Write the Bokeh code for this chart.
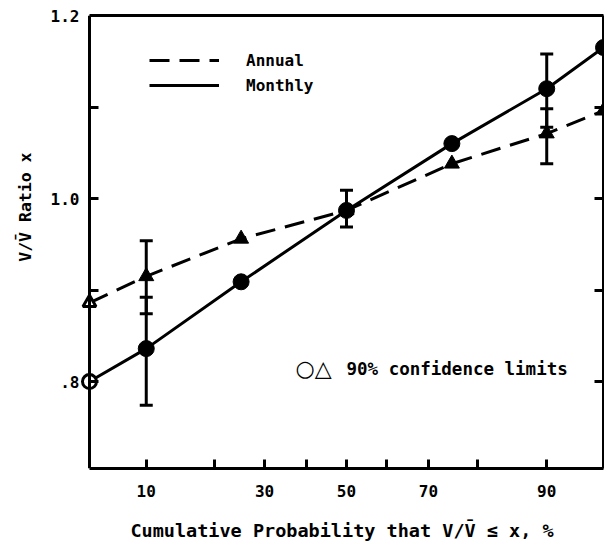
from statistics import NormalDist
from bokeh.plotting import figure
from bokeh.models import (ColumnDataSource, Whisker, TeeHead, FixedTicker, LinearAxis,
                          Range1d, Legend, LegendItem, Label, Title)
from bokeh.embed import file_html
from bokeh.resources import INLINE

# ---- data (cumulative probability %, ratio V/Vbar) ----
prob = [5, 10, 25, 50, 75, 90, 95]
monthly = [0.800, 0.836, 0.909, 0.987, 1.060, 1.120, 1.165]
annual = [0.886, 0.915, 0.956, 0.987, 1.038, 1.071, 1.096]

m_err_prob = [10, 50, 90]
m_err_lo = [0.774, 0.969, 1.078]
m_err_hi = [0.892, 1.009, 1.158]

a_err_prob = [10, 90]
a_err_lo = [0.874, 1.038]
a_err_hi = [0.954, 1.098]

x_major = [10, 30, 50, 70, 90]
x_minor = [20, 40, 60, 80]
y_ticks = [0.8, 0.9, 1.0, 1.1, 1.2]
y_major = [0.8, 1.0, 1.2]
y_labels = {0.8: ".8", 1.0: "1.0", 1.2: "1.2"}
right_ticks = [0.8, 0.9, 1.0, 1.1]

nd = NormalDist()
def z(p):
    return round(nd.inv_cdf(p / 100.0), 6)

FONT = "DejaVu Sans Mono"
x_lo, x_hi = z(prob[0]), z(prob[-1])

p = figure(width=604, height=546, output_backend="svg", toolbar_location=None,
           x_range=Range1d(x_lo - 0.0575, x_hi), y_range=Range1d(0.705, 1.2),
           min_border_left=79, min_border_top=15, min_border_right=1, min_border_bottom=78)
p.background_fill_color = "white"
p.border_fill_color = "white"
p.grid.visible = False
p.outline_line_color = None

def style(ax):
    ax.axis_line_width = 3
    ax.axis_line_color = "black"
    ax.major_tick_in = 9
    ax.major_tick_out = 0
    ax.minor_tick_in = 9
    ax.minor_tick_out = 0
    ax.major_tick_line_width = 3
    ax.minor_tick_line_width = 3
    ax.minor_tick_line_color = "black"
    ax.major_label_text_font = FONT
    ax.major_label_text_font_style = "bold"
    ax.major_label_text_font_size = "16px"
    ax.major_label_text_color = "black"
    ax.axis_label_text_font = FONT
    ax.axis_label_text_font_style = "bold"
    ax.axis_label_text_color = "black"

# bottom axis
xa = p.xaxis[0]
style(xa)
xa.ticker = FixedTicker(ticks=[z(t) for t in x_major], minor_ticks=[z(t) for t in x_minor])
xa.major_label_overrides = {z(t): str(t) for t in x_major}
xa.bounds = (x_lo, x_hi)
xa.major_label_standoff = 16
xa.axis_label = "Cumulative Probability that V/V\u0304 \u2264 x, %"
xa.axis_label_text_font_size = "18.5px"
xa.axis_label_standoff = 20

# left axis: labels only (at the frame edge)
ya = p.yaxis[0]
style(ya)
ya.ticker = FixedTicker(ticks=y_major, minor_ticks=[])
ya.major_label_overrides = y_labels
ya.axis_line_color = None
ya.major_tick_line_color = None
ya.minor_tick_line_color = None
ya.major_label_standoff = 1

# left axis line and ticks, fixed at the 5 % position
yl = LinearAxis(ticker=FixedTicker(ticks=[], minor_ticks=y_ticks), fixed_location=x_lo)
style(yl)
yl.major_label_standoff = 0
p.add_layout(yl, "left")

# y axis title
p.add_layout(Title(text="V/V\u0304 Ratio x", align="right", offset=137,
                   vertical_align="bottom", standoff=26,
                   text_font=FONT, text_font_style="bold", text_font_size="16.5px",
                   text_color="black"), "left")

ra = LinearAxis(ticker=FixedTicker(ticks=[], minor_ticks=right_ticks))
style(ra)
ra.major_label_standoff = 0
p.add_layout(ra, "right")

ta = LinearAxis(ticker=FixedTicker(ticks=[], minor_ticks=[]), bounds=(x_lo, x_hi))
style(ta)
ta.major_label_standoff = 0
p.add_layout(ta, "above")

xs = [z(v) for v in prob]
src = ColumnDataSource(dict(x=xs, m=monthly, a=annual))

# error bars
msrc = ColumnDataSource(dict(x=[z(v) for v in m_err_prob], lo=m_err_lo, hi=m_err_hi))
asrc = ColumnDataSource(dict(x=[z(v) for v in a_err_prob], lo=a_err_lo, hi=a_err_hi))
for s in (msrc, asrc):
    w = Whisker(source=s, base="x", lower="lo", upper="hi", dimension="height",
                line_width=3, line_color="black",
                upper_head=TeeHead(size=13, line_width=3, line_color="black"),
                lower_head=TeeHead(size=13, line_width=3, line_color="black"))
    p.add_layout(w)

la = p.line("x", "a", source=src, line_color="black", line_width=3, line_dash="20 10")
lm = p.line("x", "m", source=src, line_color="black", line_width=3)

# markers: first point open, the rest filled
open_src = ColumnDataSource(dict(x=xs[:1], m=monthly[:1], a=annual[:1]))
fill_src = ColumnDataSource(dict(x=xs[1:], m=monthly[1:], a=annual[1:]))
p.scatter("x", "a", source=fill_src, marker="triangle", size=15, color="black")
p.scatter("x", "m", source=fill_src, marker="circle", size=16, color="black")
p.scatter("x", "a", source=open_src, marker="triangle", size=13, fill_color="white",
          line_color="black", line_width=3)
p.scatter("x", "m", source=open_src, marker="circle", size=14, fill_color="white",
          line_color="black", line_width=3)

legend = Legend(items=[LegendItem(label="Annual", renderers=[la]),
                       LegendItem(label="Monthly", renderers=[lm])],
                location=(69, 373), orientation="vertical",
                glyph_width=70, glyph_height=20, spacing=5, label_standoff=27,
                padding=0, margin=0, border_line_color=None, background_fill_alpha=0,
                label_text_font=FONT, label_text_font_style="bold",
                label_text_font_size="16px", label_text_color="black")
p.add_layout(legend, "center")

p.add_layout(Label(x=215, y=100, x_units="screen", y_units="screen",
                   text="\u25cb\u25b3", text_font="DejaVu Sans", text_font_style="bold",
                   text_font_size="22px", text_color="black",
                   text_baseline="middle"))
p.add_layout(Label(x=266, y=100, x_units="screen", y_units="screen",
                   text="90% confidence limits", text_font=FONT, text_font_style="bold",
                   text_font_size="17.5px", text_color="black",
                   text_baseline="middle"))

open("out.html", "w").write(file_html(p, INLINE))
